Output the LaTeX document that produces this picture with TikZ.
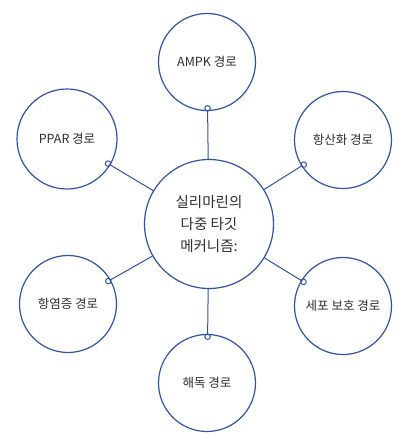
\documentclass[tikz,border=0pt]{standalone}
\usepackage{fontspec}
\setmainfont{Noto Sans CJK KR}
\usetikzlibrary{arrows.meta}
\definecolor{lineblue}{HTML}{2F52AC}
\definecolor{txt}{HTML}{2E2E2E}
\begin{document}
\begin{tikzpicture}[x=1pt,y=-1pt,
  hub/.style={circle,draw=lineblue,line width=1.2pt,minimum size=129pt,inner sep=0pt,align=center,text=txt,font=\fontsize{14.5}{22}\selectfont},
  leaf/.style={circle,draw=lineblue,line width=1.2pt,minimum size=97pt,inner sep=0pt,align=center,text=txt,font=\fontsize{12.5}{15}\selectfont},
  link/.style={draw=lineblue,line width=1pt,-{Circle[open,length=6.5pt,width=6.5pt,line width=1pt]},shorten >=-6pt}]
\useasboundingbox[fill=white] (0,0) rectangle (405,447);
\node[hub] (c) at (209,224) {실리마린의\\다중 타깃\\메커니즘:};
\node[leaf] (ampk) at (207,62) {AMPK 경로};
\node[leaf,minimum size=100pt] (ppar) at (67,139) {PPAR 경로};
\node[leaf] (anti) at (343,140) {항산화 경로};
\node[leaf] (inf) at (68,304) {항염증 경로};
\node[leaf] (cell) at (343,306) {세포 보호 경로};
\node[leaf] (detox) at (207,383) {해독 경로};
\draw[link] (c) -- (ampk);
\draw[link] (c) -- (ppar);
\draw[link] (c) -- (anti);
\draw[link] (c) -- (inf);
\draw[link] (c) -- (cell);
\draw[link] (c) -- (detox);
\end{tikzpicture}
\end{document}
